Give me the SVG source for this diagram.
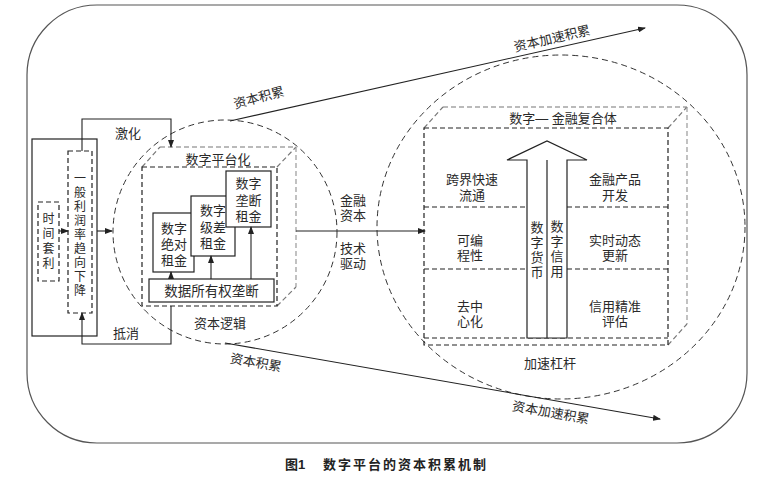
<svg xmlns="http://www.w3.org/2000/svg" width="782" height="477" viewBox="0 0 782 477">
<style>
text{font-family:"Liberation Sans","Noto Sans CJK SC",sans-serif;font-size:13px;fill:#2a2a2a;}
.c{text-anchor:middle;}
.v{font-size:12px;}
.s{fill:none;stroke:#222;stroke-width:1.2;}
.d{fill:none;stroke:#222;stroke-width:1.2;stroke-dasharray:5 3;}
.g{fill:none;stroke:#999;stroke-width:1.2;stroke-dasharray:5 3;}
.o{fill:none;stroke:#333;stroke-width:1;stroke-dasharray:6 4;}
.b{fill:#fff;stroke:#222;stroke-width:1.2;}
.ln{fill:none;stroke:#222;stroke-width:1.1;marker-end:url(#ah);}
</style>
<defs>
<marker id="ah" markerWidth="8" markerHeight="6" refX="7" refY="3" orient="auto" markerUnits="userSpaceOnUse">
<path d="M0,0 L8,3 L0,6 z" fill="#222"/>
</marker>
</defs>
<rect x="27" y="5" width="720" height="438" rx="70" ry="70" fill="none" stroke="#555" stroke-width="1.2"/>

<g id="circle-left"><circle cx="225" cy="232" r="112" class="o"/></g>
<g id="circle-right"><ellipse cx="561" cy="227" rx="184" ry="172" class="o"/></g>

<g id="outer-left">
<rect x="32" y="139" width="65" height="197" class="s"/>
</g>
<g id="arbitrage">
<rect x="38" y="202" width="21" height="79" class="d"/>
<text class="c v"><tspan x="48.5" y="223">时</tspan><tspan x="48.5" y="238">间</tspan><tspan x="48.5" y="253">套</tspan><tspan x="48.5" y="268">利</tspan></text>
</g>
<g id="profit-rate">
<rect x="68" y="151" width="24" height="162" class="d"/>
<text class="c v"><tspan x="80" y="183">一</tspan><tspan x="80" y="197">般</tspan><tspan x="80" y="211">利</tspan><tspan x="80" y="225">润</tspan><tspan x="80" y="239">率</tspan><tspan x="80" y="253">趋</tspan><tspan x="80" y="267">向</tspan><tspan x="80" y="281">下</tspan><tspan x="80" y="295">降</tspan></text>
</g>

<g id="platform">
<path d="M160,147 H296 M142,167 L160,147 M277,167 L296,147 M277,306 L296,287" class="g" style="stroke:#777"/>
<path d="M296,147 V287" class="g"/>
<rect x="142" y="167" width="135" height="139" class="d"/>
<text class="c" x="218" y="164">数字平台化</text>
</g>
<g id="abs-rent">
<rect x="153" y="213" width="41" height="59" class="b"/>
<text class="c"><tspan x="174" y="233">数字</tspan><tspan x="174" y="249">绝对</tspan><tspan x="174" y="265">租金</tspan></text>
</g>
<g id="diff-rent">
<rect x="191" y="196" width="44" height="60" class="b"/>
<text class="c"><tspan x="213" y="215">数字</tspan><tspan x="213" y="232">级差</tspan><tspan x="213" y="248">租金</tspan></text>
</g>
<g id="mono-rent">
<rect x="226" y="171" width="45" height="56" class="b"/>
<text class="c"><tspan x="248.5" y="188">数字</tspan><tspan x="248.5" y="205">垄断</tspan><tspan x="248.5" y="221">租金</tspan></text>
</g>
<g id="data-mono">
<rect x="149" y="279" width="125" height="23" class="b"/>
<text class="c" x="211.5" y="295.5" style="font-size:13.5px">数据所有权垄断</text>
</g>

<g id="complex">
<path d="M443,107 H687 M424,128 L443,107 M668,128 L687,107 M668,345 L687,324" class="g" style="stroke:#777"/>
<path d="M687,107 V324" class="g"/>
<rect x="424" y="128" width="244" height="217" class="d"/>
<path d="M424,338 H668 M424,207 H527 M567,207 H668 M424,269 H527 M567,269 H668" class="d"/>
<text class="c" x="563" y="123">数字— 金融复合体</text>
<polygon points="527,338 527,160 507,160 547,141 587,160 567,160 567,338" fill="#fff" stroke="#222" stroke-width="1.2"/>
<path d="M547,160 V338" class="s"/>
<text class="c"><tspan x="537" y="232">数</tspan><tspan x="537" y="247">字</tspan><tspan x="537" y="262">货</tspan><tspan x="537" y="277">币</tspan></text>
<text class="c"><tspan x="557" y="231">数</tspan><tspan x="557" y="246">字</tspan><tspan x="557" y="261">信</tspan><tspan x="557" y="276">用</tspan></text>
<text class="c"><tspan x="472" y="184">跨界快速</tspan><tspan x="472" y="200">流通</tspan></text>
<text class="c"><tspan x="470" y="245">可编</tspan><tspan x="470" y="260">程性</tspan></text>
<text class="c"><tspan x="470" y="311">去中</tspan><tspan x="470" y="326">心化</tspan></text>
<text class="c"><tspan x="615" y="184">金融产品</tspan><tspan x="615" y="200">开发</tspan></text>
<text class="c"><tspan x="615" y="245">实时动态</tspan><tspan x="615" y="260">更新</tspan></text>
<text class="c"><tspan x="615" y="311">信用精准</tspan><tspan x="615" y="326">评估</tspan></text>
</g>

<g id="connectors">
<path d="M59,231 H68" class="ln"/>
<path d="M97,231 H112" class="ln"/>
<path d="M82,151 V119 H171 V147" class="ln"/>
<path d="M171,306 V344 H82 V313" class="ln"/>
<path d="M171,279 V272" class="ln"/>
<path d="M211,279 V256" class="ln"/>
<path d="M251,279 V227" class="ln"/>
<path d="M296,231 H425" class="ln"/>
<path d="M230,121 L645,28" class="ln"/>
<path d="M225,343 L660,419" class="ln"/>
</g>

<g id="labels">
<text class="c" x="128" y="138">激化</text>
<text class="c" x="126" y="338">抵消</text>
<text class="c" x="220" y="328">资本逻辑</text>
<text class="c" transform="translate(260,102) rotate(-15)">资本积累</text>
<text class="c" transform="translate(553,43) rotate(-13)">资本加速积累</text>
<text class="c" transform="translate(255,367) rotate(10)">资本积累</text>
<text class="c" transform="translate(550,417) rotate(10)">资本加速积累</text>
<text class="c" x="550" y="368">加速杠杆</text>
<text class="c"><tspan x="353" y="205">金融</tspan><tspan x="353" y="220">资本</tspan><tspan x="353" y="253">技术</tspan><tspan x="353" y="268">驱动</tspan></text>
</g>

<g id="caption">
<text x="285" y="469" style="font-size:13px;font-weight:bold;fill:#222">图1</text>
<text x="323" y="469" style="font-size:13px;font-weight:bold;fill:#222;letter-spacing:2px">数字平台的资本积累机制</text>
</g>
</svg>
